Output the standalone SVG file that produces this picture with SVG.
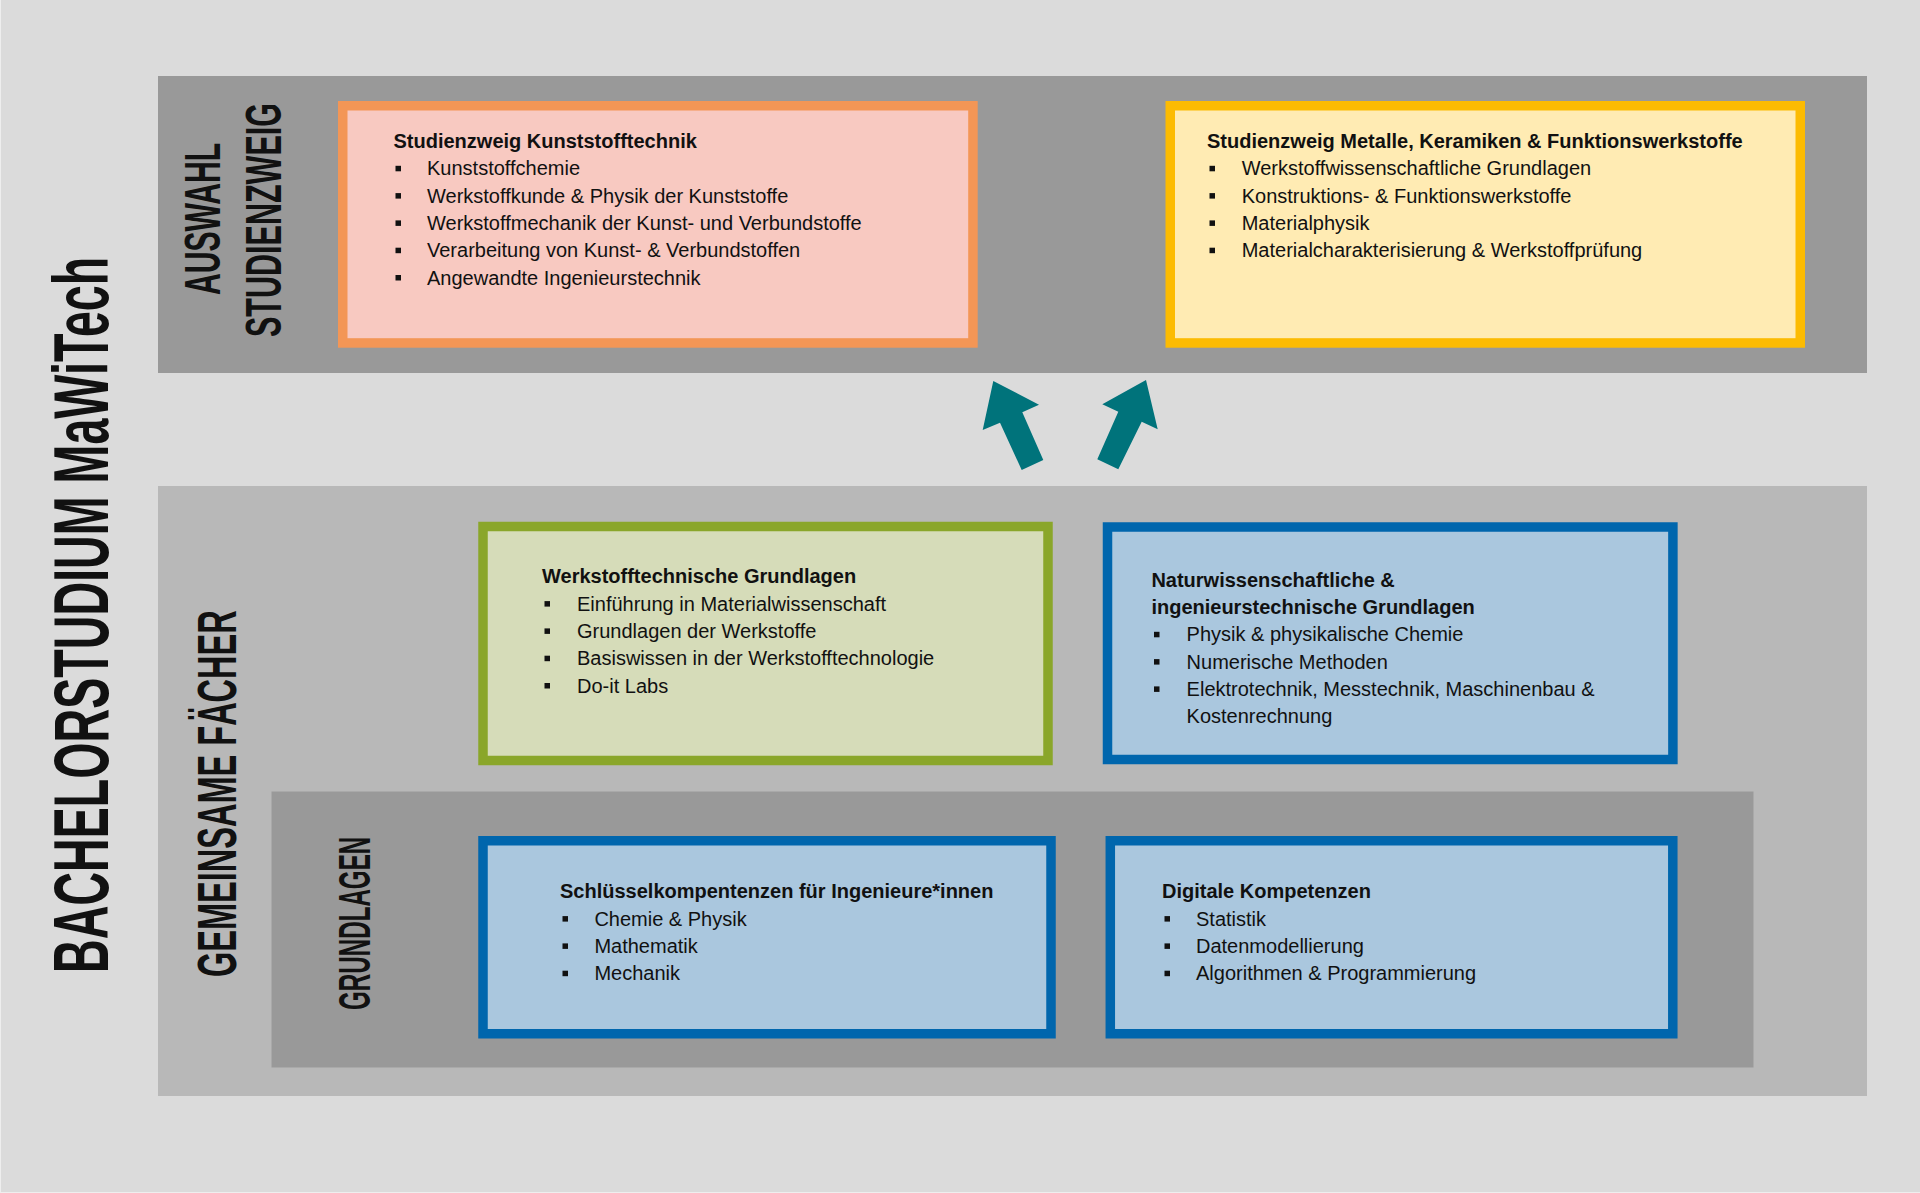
<svg xmlns="http://www.w3.org/2000/svg" width="1920" height="1193" viewBox="0 0 1920 1193">
<style>
.t{font-family:"Liberation Sans",Arial,sans-serif;font-size:20px;fill:#111}
.b{font-weight:bold}
.v{font-family:"Liberation Sans Narrow","Liberation Sans",Arial,sans-serif;font-weight:bold;fill:#111}
.bul{fill:#111}
.box{stroke-width:9.5}
.or{fill:#f8c9c1;stroke:#f39656}
.ye{fill:#ffebb3;stroke:#fcbb02}
.gr{fill:#d6dcb9;stroke:#8aa62a}
.bl{fill:#aac7de;stroke:#0066ad}
.arr{fill:#00737b}
</style>
<rect x="0" y="0" width="1920" height="1193" fill="#dbdbdb"/>
<line x1="0.5" y1="0" x2="0.5" y2="1193" stroke="#eeeeee" stroke-width="1"/>
<line x1="0" y1="1192.5" x2="1920" y2="1192.5" stroke="#eeeeee" stroke-width="1"/>

<g id="title-main">
<text class="v" font-size="77" transform="translate(108,973) rotate(-90) scale(0.75,1)" textLength="955" lengthAdjust="spacingAndGlyphs">BACHELORSTUDIUM MaWiTech</text>
</g>

<g id="band-auswahl">
<rect x="158" y="76" width="1709" height="297" fill="#999999"/>
<text class="v" font-size="49" text-anchor="middle" transform="translate(220,219) rotate(-90) scale(0.75,1)" textLength="203" lengthAdjust="spacingAndGlyphs">AUSWAHL</text>
<text class="v" font-size="49" text-anchor="middle" transform="translate(280.5,220) rotate(-90) scale(0.75,1)" textLength="312" lengthAdjust="spacingAndGlyphs">STUDIENZWEIG</text>
</g>

<g id="band-gemeinsam">
<rect x="158" y="486" width="1709" height="610" fill="#b8b8b8"/>
<text class="v" font-size="55" transform="translate(236,977) rotate(-90) scale(0.75,1)" textLength="489" lengthAdjust="spacingAndGlyphs">GEMEINSAME FÄCHER</text>
</g>

<g id="band-grundlagen">
<rect x="271.5" y="791.5" width="1482" height="276" fill="#999999"/>
<text class="v" font-size="45" transform="translate(370,1010) rotate(-90) scale(0.75,1)" textLength="231" lengthAdjust="spacingAndGlyphs">GRUNDLAGEN</text>
</g>

<g id="node-kunststofftechnik">
<rect class="box or" x="342.75" y="105.75" width="630.2" height="237.2"/>
<text class="t b" x="393.5" y="148">Studienzweig Kunststofftechnik</text>
<rect class="bul" x="395.5" y="165.8" width="5.5" height="5.5"/>
<text class="t" x="427" y="175.3">Kunststoffchemie</text>
<rect class="bul" x="395.5" y="193.1" width="5.5" height="5.5"/>
<text class="t" x="427" y="202.6">Werkstoffkunde &amp; Physik der Kunststoffe</text>
<rect class="bul" x="395.5" y="220.4" width="5.5" height="5.5"/>
<text class="t" x="427" y="229.9">Werkstoffmechanik der Kunst- und Verbundstoffe</text>
<rect class="bul" x="395.5" y="247.7" width="5.5" height="5.5"/>
<text class="t" x="427" y="257.2">Verarbeitung von Kunst- &amp; Verbundstoffen</text>
<rect class="bul" x="395.5" y="275" width="5.5" height="5.5"/>
<text class="t" x="427" y="284.5">Angewandte Ingenieurstechnik</text>
</g>

<g id="node-metalle">
<rect class="box ye" x="1170.25" y="105.75" width="630" height="237.2"/>
<text class="t b" x="1207" y="148">Studienzweig Metalle, Keramiken &amp; Funktionswerkstoffe</text>
<rect class="bul" x="1209.5" y="165.8" width="5.5" height="5.5"/>
<text class="t" x="1241.7" y="175.3">Werkstoffwissenschaftliche Grundlagen</text>
<rect class="bul" x="1209.5" y="193.1" width="5.5" height="5.5"/>
<text class="t" x="1241.7" y="202.6">Konstruktions- &amp; Funktionswerkstoffe</text>
<rect class="bul" x="1209.5" y="220.4" width="5.5" height="5.5"/>
<text class="t" x="1241.7" y="229.9">Materialphysik</text>
<rect class="bul" x="1209.5" y="247.7" width="5.5" height="5.5"/>
<text class="t" x="1241.7" y="257.2">Materialcharakterisierung &amp; Werkstoffprüfung</text>
</g>

<g id="node-werkstofftechnische">
<rect class="box gr" x="483" y="526.5" width="565" height="234"/>
<text class="t b" x="542" y="583.3">Werkstofftechnische Grundlagen</text>
<rect class="bul" x="544.5" y="601.1" width="5.5" height="5.5"/>
<text class="t" x="577" y="610.6">Einführung in Materialwissenschaft</text>
<rect class="bul" x="544.5" y="628.4" width="5.5" height="5.5"/>
<text class="t" x="577" y="637.9">Grundlagen der Werkstoffe</text>
<rect class="bul" x="544.5" y="655.7" width="5.5" height="5.5"/>
<text class="t" x="577" y="665.2">Basiswissen in der Werkstofftechnologie</text>
<rect class="bul" x="544.5" y="683" width="5.5" height="5.5"/>
<text class="t" x="577" y="692.5">Do-it Labs</text>
</g>

<g id="node-naturwissenschaftliche">
<rect class="box bl" x="1107.5" y="527" width="565.4" height="232.5"/>
<text class="t b" x="1151.4" y="586.7">Naturwissenschaftliche &amp;</text>
<text class="t b" x="1151.4" y="614">ingenieurstechnische Grundlagen</text>
<rect class="bul" x="1154" y="631.8" width="5.5" height="5.5"/>
<text class="t" x="1186.6" y="641.3">Physik &amp; physikalische Chemie</text>
<rect class="bul" x="1154" y="659.1" width="5.5" height="5.5"/>
<text class="t" x="1186.6" y="668.6">Numerische Methoden</text>
<rect class="bul" x="1154" y="686.4" width="5.5" height="5.5"/>
<text class="t" x="1186.6" y="695.9">Elektrotechnik, Messtechnik, Maschinenbau &amp;</text>
<text class="t" x="1186.6" y="723.2">Kostenrechnung</text>
</g>

<g id="node-schluesselkompetenzen">
<rect class="box bl" x="483" y="840.75" width="568" height="193"/>
<text class="t b" x="560" y="898.3">Schlüsselkompentenzen für Ingenieure*innen</text>
<rect class="bul" x="562.5" y="916.1" width="5.5" height="5.5"/>
<text class="t" x="594.4" y="925.6">Chemie &amp; Physik</text>
<rect class="bul" x="562.5" y="943.4" width="5.5" height="5.5"/>
<text class="t" x="594.4" y="952.9">Mathematik</text>
<rect class="bul" x="562.5" y="970.7" width="5.5" height="5.5"/>
<text class="t" x="594.4" y="980.2">Mechanik</text>
</g>

<g id="node-digitale">
<rect class="box bl" x="1110.3" y="840.75" width="562.5" height="193"/>
<text class="t b" x="1162" y="898.3">Digitale Kompetenzen</text>
<rect class="bul" x="1164.5" y="916.1" width="5.5" height="5.5"/>
<text class="t" x="1196" y="925.6">Statistik</text>
<rect class="bul" x="1164.5" y="943.4" width="5.5" height="5.5"/>
<text class="t" x="1196" y="952.9">Datenmodellierung</text>
<rect class="bul" x="1164.5" y="970.7" width="5.5" height="5.5"/>
<text class="t" x="1196" y="980.2">Algorithmen &amp; Programmierung</text>
</g>

<g id="connectors">
<polygon class="arr" points="993.3,381 1039,404.7 1022.3,412.3 1043.3,460 1021.7,470 1000,422.7 982.7,430"/>
<polygon class="arr" points="1146,380 1157.7,429.3 1141.7,421.7 1118.3,469.3 1097.3,459.3 1118.3,411.7 1102.3,404.3"/>
</g>
</svg>
